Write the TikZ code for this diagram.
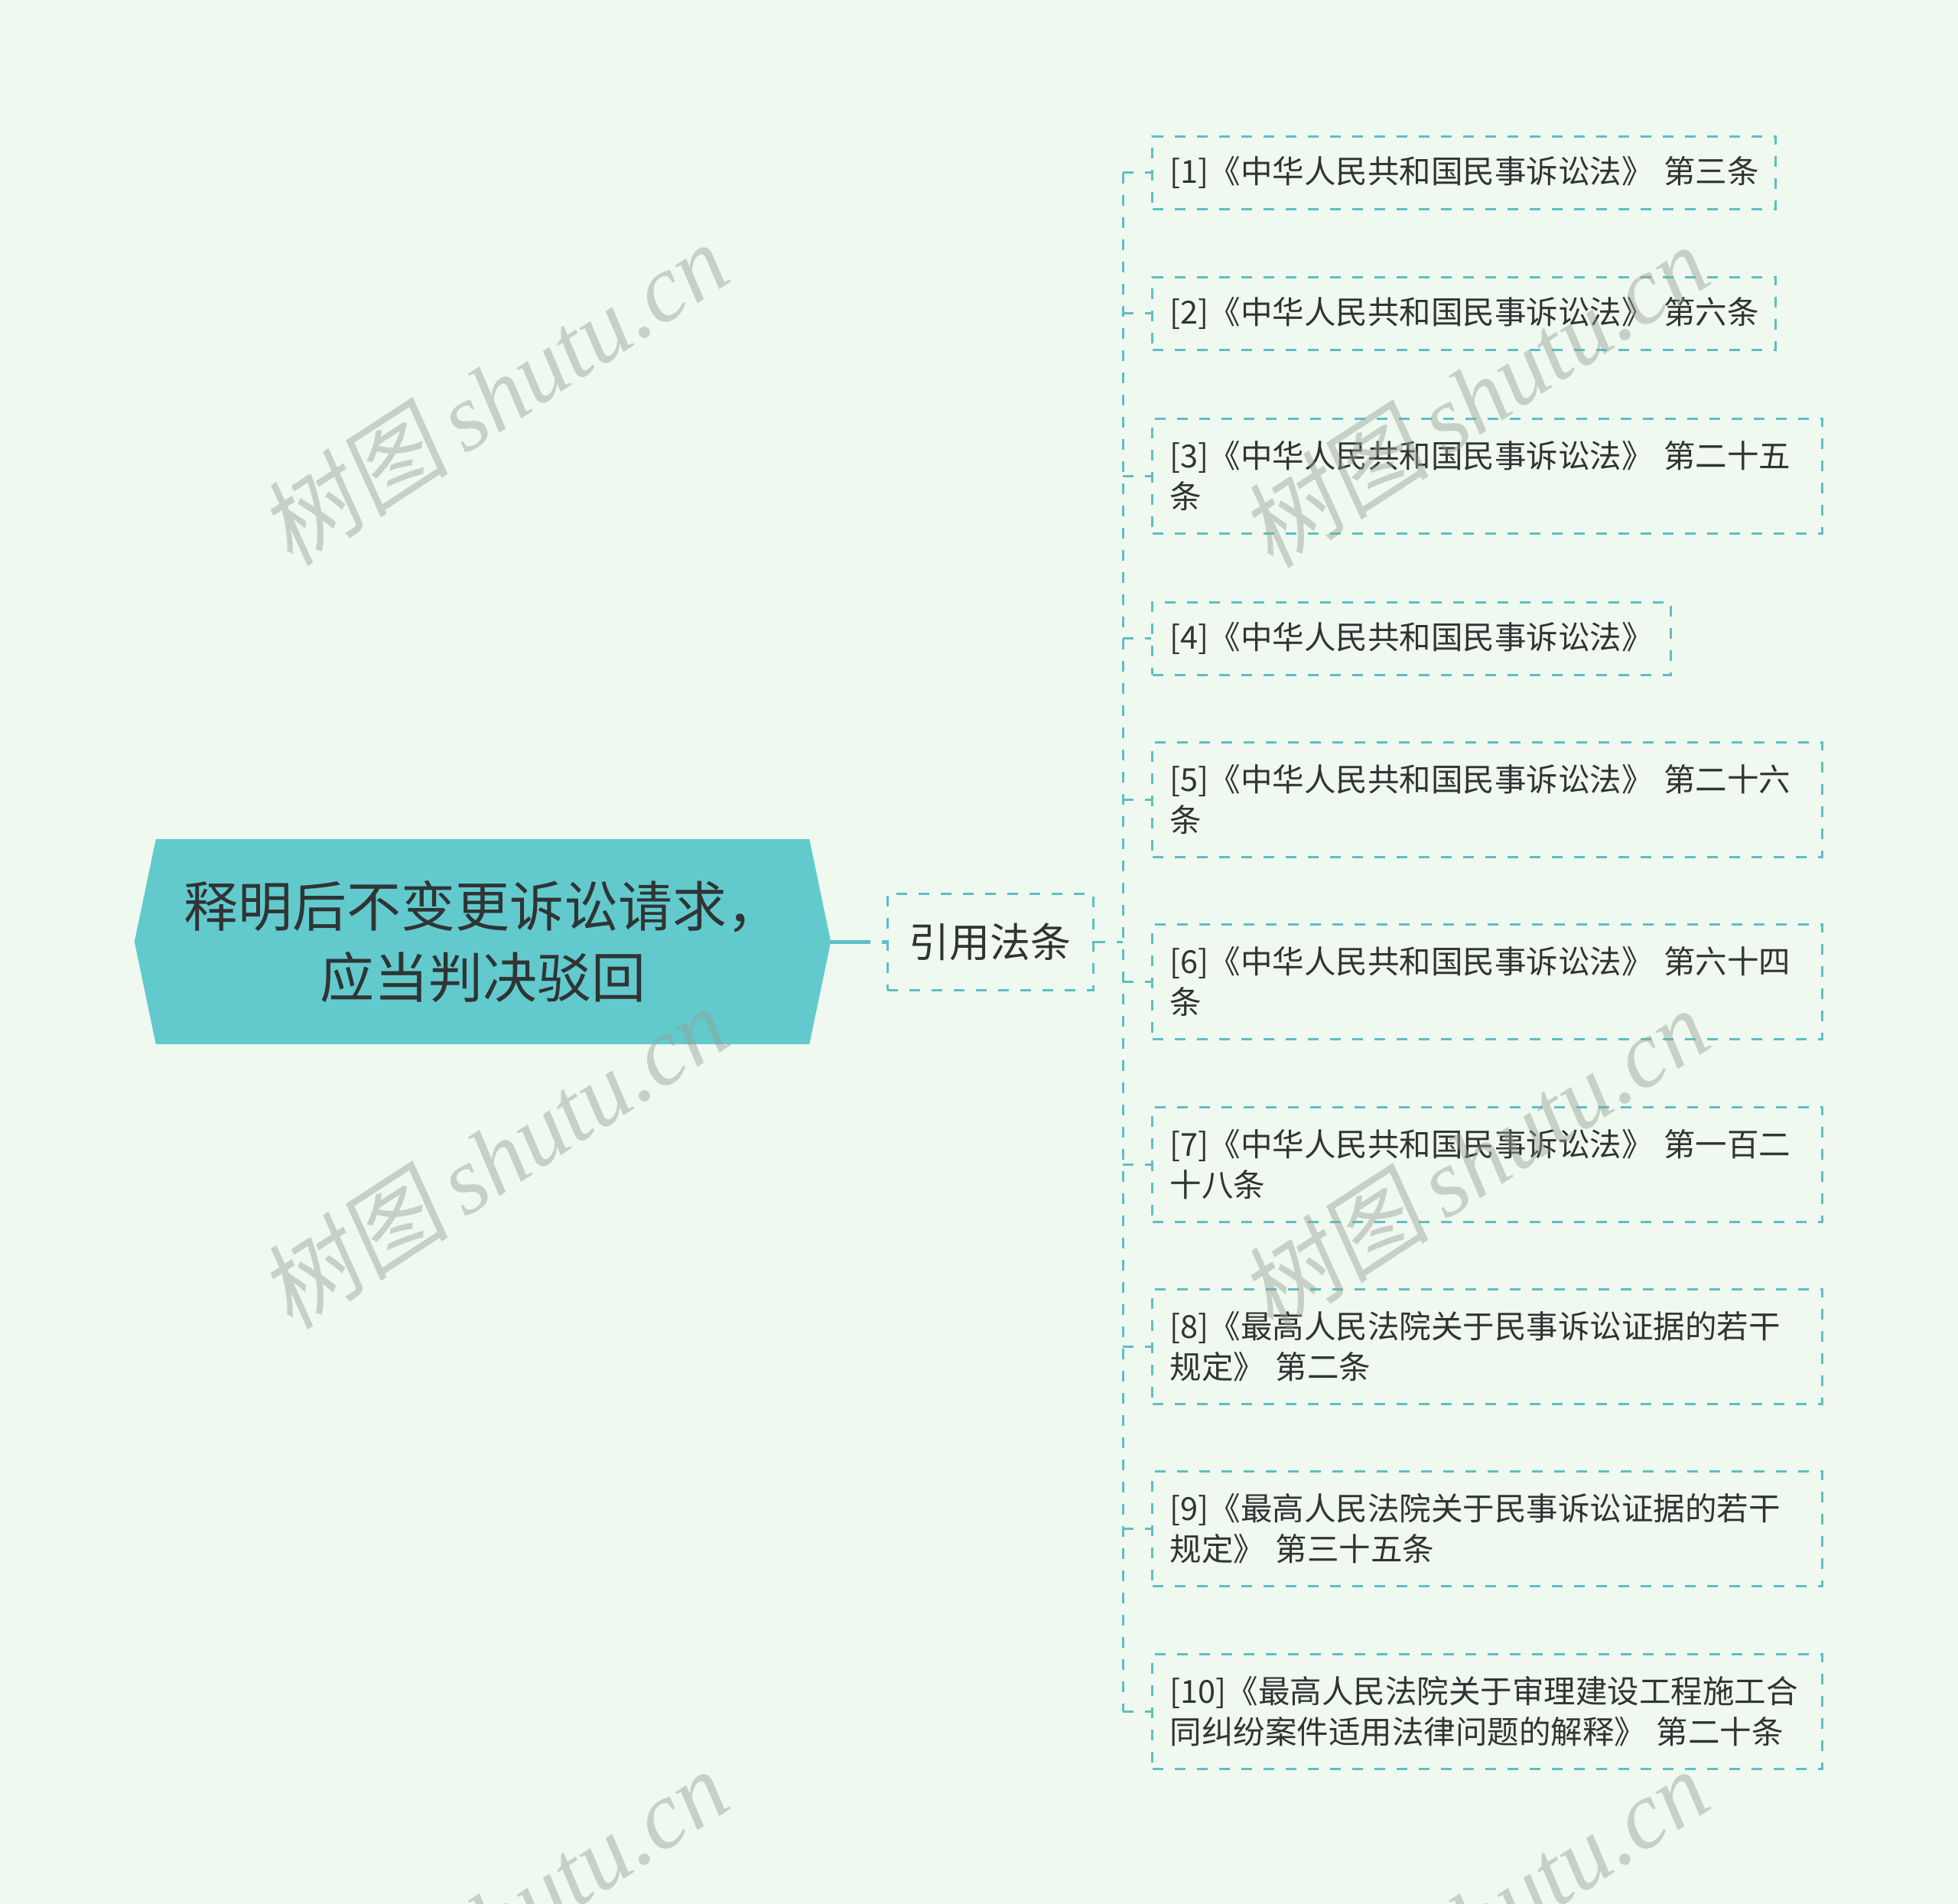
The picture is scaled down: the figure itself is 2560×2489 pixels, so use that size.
\documentclass[tikz,border=0pt]{standalone}
\usepackage{fontspec}
\setmainfont{Noto Sans CJK SC}
\newfontfamily\wmcjk[FakeSlant=0.15]{Noto Sans CJK SC}
\newfontfamily\wmlat{Liberation Serif}
\usetikzlibrary{backgrounds}
\definecolor{bgc}{HTML}{F0F9EF}
\definecolor{lc}{HTML}{5DBFC5}
\definecolor{rootfill}{HTML}{62CACD}
\definecolor{tx}{HTML}{303434}
\definecolor{wmc}{RGB}{150,160,152}
\begin{document}
\begin{tikzpicture}[x=1pt,y=-1pt,
  conn/.style={draw=lc, line width=3pt, dash pattern=on 14pt off 15pt},
  leaf/.style={draw=lc, line width=3pt, dash pattern=on 14pt off 15pt,
    align=left, inner xsep=23pt, inner ysep=0pt, text=tx, anchor=west,
    font=\fontsize{41.5}{53}\selectfont},
  single/.style={minimum height=95pt},
  double/.style={minimum height=150pt, text width=830pt},
  midnode/.style={draw=lc, line width=3pt, dash pattern=on 14pt off 15pt,
    minimum width=269pt, minimum height=126pt, inner sep=0pt, text=tx,
    font=\fontsize{53}{60}\selectfont},
  rootnode/.style={minimum width=910pt, minimum height=268pt, inner sep=0pt,
    align=center, text=tx, font=\fontsize{71}{93}\selectfont},
  wm/.style={text=wmc, opacity=0.45, rotate=33, inner sep=0pt,
    font=\fontsize{125}{130}\selectfont}
]
\useasboundingbox (0,0) rectangle (2560,2489);

% root
\node[rootnode] (root) at (631,1231) {释明后不变更诉讼请求，\\应当判决驳回};
\begin{pgfonlayer}{background}
\fill[bgc] (0,0) rectangle (2560,2489);
\fill[rootfill] (root.west) -- ([xshift=28pt]root.north west) -- ([xshift=-28pt]root.north east)
  -- (root.east) -- ([xshift=-28pt]root.south east) -- ([xshift=28pt]root.south west) -- cycle;
\end{pgfonlayer}

% middle
\node[midnode] (mid) at (1294.5,1231) {引用法条};
\draw[lc, line width=5pt, dash pattern=on 52pt off 15pt on 100pt] (root.east) -- (mid.west);

% leaves
\node[leaf, single, text width=769pt] (l1) at (1505,225.5) {[1]《中华人民共和国民事诉讼法》~第三条};
\node[leaf, single, text width=769pt] (l2) at (1505,409.5) {[2]《中华人民共和国民事诉讼法》~第六条};
\node[leaf, double] (l3) at (1505,622) {[3]《中华人民共和国民事诉讼法》~第二十五\\条};
\node[leaf, single, text width=632pt] (l4) at (1505,834.5) {[4]《中华人民共和国民事诉讼法》};
\node[leaf, double] (l5) at (1505,1045) {[5]《中华人民共和国民事诉讼法》~第二十六\\条};
\node[leaf, double] (l6) at (1505,1283) {[6]《中华人民共和国民事诉讼法》~第六十四\\条};
\node[leaf, double] (l7) at (1505,1522) {[7]《中华人民共和国民事诉讼法》~第一百二\\十八条};
\node[leaf, double] (l8) at (1505,1760) {[8]《最高人民法院关于民事诉讼证据的若干\\规定》~第二条};
\node[leaf, double] (l9) at (1505,1998.5) {[9]《最高人民法院关于民事诉讼证据的若干\\规定》~第三十五条};
\node[leaf, double] (l10) at (1505,2237) {[10]《最高人民法院关于审理建设工程施工合\\同纠纷案件适用法律问题的解释》~第二十条};

% connectors
\coordinate (hub) at (1468,1231);
\draw[conn] (mid.east) -- (hub);
\draw[conn] (hub |- l1.west) -- (hub |- l10.west);
\foreach \n in {l1,l2,l3,l4,l5,l6,l7,l8,l9,l10}
  \draw[conn] (hub |- \n.west) -- (\n.west);

% watermarks
\foreach \p/\q [count=\i] in {645/514, 645/1512, 645/2510, 1927/517, 1927/1515, 1927/2510}
  \node[wm] (wm\i) at (\p,\q) {{\wmcjk 树图}\,{\wmlat\itshape shutu.cn}};
\end{tikzpicture}
\end{document}
